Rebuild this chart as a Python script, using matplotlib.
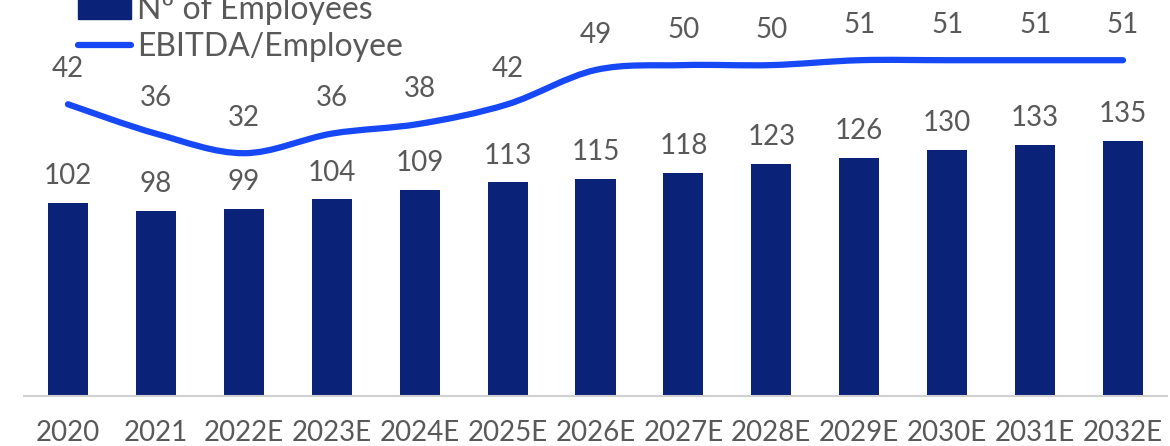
import numpy as np
import matplotlib.pyplot as plt
from matplotlib.path import Path
from matplotlib.patches import PathPatch, Patch
from matplotlib.lines import Line2D

plt.rcParams['font.family'] = ['Lato', 'DejaVu Sans']

years = ['2020', '2021', '2022E', '2023E', '2024E', '2025E', '2026E',
         '2027E', '2028E', '2029E', '2030E', '2031E', '2032E']
employees = [102, 98, 99, 104, 109, 113, 115, 118, 123, 126, 130, 133, 135]
ebitda_per_emp = [42, 36, 32, 36, 38, 42, 49, 50, 50, 51, 51, 51, 51]

bar_color = '#0A2278'
line_color = '#1748F5'
text_color = '#595959'

fig = plt.figure(figsize=(11.7, 4.46), dpi=100)
ax = fig.add_axes([24 / 1170, 50 / 446, 1143 / 1170, 396 / 446])
x = np.arange(len(years))

ax.bar(x, employees, width=0.455, color=bar_color, zorder=2)
ax.set_xlim(-0.5, len(years) - 0.5)
ax.set_ylim(0, 209.5)
for xi, v in zip(x, employees):
    ax.annotate(str(v), (xi, v), xytext=(0, 10), textcoords='offset points',
                ha='center', va='bottom', fontsize=20, color=text_color)

ax.axhline(0, color='#d0d0d0', lw=1.5, zorder=3, clip_on=False)
for s in ax.spines.values():
    s.set_visible(False)
ax.set_yticks([])
ax.set_xticks(x)
ax.set_xticklabels(years, fontsize=20, color=text_color)
ax.tick_params(axis='x', length=0, pad=17)

# secondary axis for the smoothed EBITDA/Employee line
ax2 = ax.twinx()
ax2.set_ylim(-17.6, 63.3)
ax2.set_yticks([])
for s in ax2.spines.values():
    s.set_visible(False)

pts = np.column_stack([x, ebitda_per_emp]).astype(float)
ext = np.vstack([pts[0], pts, pts[-1]])
verts = [tuple(pts[0])]
codes = [Path.MOVETO]
for i in range(len(pts) - 1):
    p0, p1, p2, p3 = ext[i], ext[i + 1], ext[i + 2], ext[i + 3]
    c1 = p1 + (p2 - p0) / 6
    c2 = p2 - (p3 - p1) / 6
    verts += [tuple(c1), tuple(c2), tuple(p2)]
    codes += [Path.CURVE4] * 3
ax2.add_patch(PathPatch(Path(verts, codes), facecolor='none',
                        edgecolor=line_color, lw=4.5, capstyle='round', zorder=4))

for xi, v in zip(x, ebitda_per_emp):
    ax2.annotate(str(v), (xi, v), xytext=(0, 16), textcoords='offset points',
                 ha='center', va='bottom', fontsize=20, color=text_color)

handles = [Patch(color=bar_color),
           Line2D([0], [0], color=line_color, lw=4.5, solid_capstyle='round')]
fig.legend(handles, ['Nº of Employees', 'EBITDA/Employee'],
           loc='upper left', bbox_to_anchor=(78 / 1170, 451 / 446),
           frameon=False, fontsize=23, labelcolor=text_color,
           handlelength=1.65, handletextpad=0.2, labelspacing=0.22,
           borderpad=0, borderaxespad=0)

fig.savefig('out.png', dpi=100)
